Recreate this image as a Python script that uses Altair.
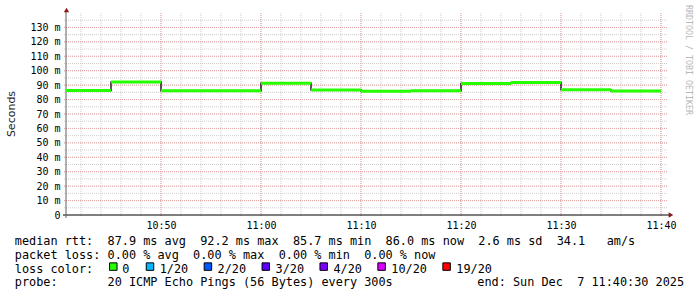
import altair as alt
import pandas as pd

# ---------------- data ----------------
DATE = "2025-12-07"
seg_start = ["10:40:30", "10:45:00", "10:50:00", "10:55:00", "11:00:00", "11:05:00",
             "11:10:00", "11:15:00", "11:20:00", "11:25:00", "11:30:00", "11:35:00"]
seg_end = ["10:45:00", "10:50:00", "10:55:00", "11:00:00", "11:05:00", "11:10:00",
           "11:15:00", "11:20:00", "11:25:00", "11:30:00", "11:35:00", "11:40:00"]
median_ms = [86.3, 92.2, 86.2, 86.2, 91.3, 86.7, 85.7, 86.1, 91.1, 91.9, 86.8, 86.0]

x_domain = ["10:40:30", "11:40:30"]
x_major = ["10:50", "11:00", "11:10", "11:20", "11:30", "11:40"]
x_minor = ["10:42", "10:44", "10:46", "10:48", "10:50", "10:52", "10:54", "10:56", "10:58",
           "11:00", "11:02", "11:04", "11:06", "11:08", "11:10", "11:12", "11:14", "11:16",
           "11:18", "11:20", "11:22", "11:24", "11:26", "11:28", "11:30", "11:32", "11:34",
           "11:36", "11:38", "11:40"]
y_domain = [0, 140]
y_major = [0, 10, 20, 30, 40, 50, 60, 70, 80, 90, 100, 110, 120, 130]
y_minor = [5, 10, 15, 20, 25, 30, 35, 40, 45, 50, 55, 60, 65, 70, 75, 80, 85, 90, 95,
           100, 105, 110, 115, 120, 125, 130, 135]

rtt_values = ["87.9", "92.2", "85.7", "86.0"]
rtt_names = ["avg", "max", "min", "now"]
rtt_sd = "2.6"
am_s = "34.1"
loss_values = ["0.00", "0.00", "0.00", "0.00"]
loss_names = ["avg", "max", "min", "now"]
loss_labels = ["0", "1/20", "2/20", "3/20", "4/20", "10/20", "19/20"]
loss_colors = ["#26ff00", "#00b8ff", "#0059ff", "#5e00ff", "#7e00ff", "#dd00ff", "#ff0000"]
probe_text = "20 ICMP Echo Pings (56 Bytes) every 300s"
end_text = "end: Sun Dec  7 11:40:30 2025"
y_title = "Seconds"
watermark = "RRDTOOL / TOBI OETIKER"

# ---------------- layout ----------------
W, H = 600, 202
PAD_L, PAD_T = 66, 13
MONO = "DejaVu Sans Mono"
LEG_FS = 11.85
NB = "\u00a0"


def ms(t):
    return int(pd.Timestamp(f"{DATE}T{t}Z").value // 1_000_000)


def nb(s):
    return s.replace(" ", NB)


xscale = alt.Scale(type="utc", domain=[ms(t) for t in x_domain])
yscale = alt.Scale(domain=y_domain, nice=False, zero=False)
xaxis = alt.Axis(values=[ms(t) for t in x_major], format="%H:%M", title=None,
                 grid=False, ticks=False, tickSize=0, domain=False,
                 labelFont=MONO, labelFontSize=10, labelColor="#000000",
                 labelBaseline="alphabetic", labelPadding=13,
                 labelOverlap=False, labelFlush=False)
yaxis = alt.Axis(values=y_major, title=None, grid=False, ticks=False, tickSize=0,
                 domain=False, labelFont=MONO, labelFontSize=10, labelColor="#000000",
                 labelPadding=6, labelOverlap=False, labelFlush=False,
                 labelExpr=f"datum.value == 0 ? '0{NB}{NB}' : datum.value + '{NB}m'")

X = lambda f: alt.X(f, type="temporal", scale=xscale, axis=xaxis)
Y = lambda f: alt.Y(f, type="quantitative", scale=yscale, axis=yaxis)

one = pd.DataFrame({"k": [0]})

df_ymin = pd.DataFrame({"v": y_minor})
df_ymaj = pd.DataFrame({"v": y_major[1:]})
df_xmin = pd.DataFrame({"t": [ms(t) for t in x_minor]})
df_xmaj = pd.DataFrame({"t": [ms(t) for t in x_major]})

df_seg = pd.DataFrame({
    "t": [ms(t) for t in seg_start],
    "t2": [ms(t) for t in seg_end],
    "v": median_ms,
})
df_step = pd.DataFrame({
    "t": [ms(t) for t in seg_start] + [ms(seg_end[-1])],
    "v": median_ms + [median_ms[-1]],
})

minor_col = "#cfcfcf"
major_col = "#e6a3a3"

layers = []
layers.append(alt.Chart(df_ymin).mark_rule(color=minor_col, strokeWidth=1, strokeDash=[1, 1]).encode(
    y=Y("v"), x=alt.value(-2), x2=alt.value(W + 2)))
layers.append(alt.Chart(df_xmin).mark_rule(color=minor_col, strokeWidth=1, strokeDash=[1, 1]).encode(
    x=X("t"), y=alt.value(0), y2=alt.value(H + 2)))
layers.append(alt.Chart(df_ymaj).mark_rule(color=major_col, strokeWidth=1, strokeDash=[1, 1]).encode(
    y=Y("v"), x=alt.value(-2), x2=alt.value(W + 2)))
layers.append(alt.Chart(df_xmaj).mark_rule(color=major_col, strokeWidth=1, strokeDash=[1, 1]).encode(
    x=X("t"), y=alt.value(0), y2=alt.value(H + 2)))

# axis lines and arrows
layers.append(alt.Chart(one).mark_rule(color="#000000", strokeWidth=1).encode(
    x=alt.value(-3), x2=alt.value(W + 4), y=alt.value(H)))
layers.append(alt.Chart(one).mark_rule(color="#606060", strokeWidth=1).encode(
    x=alt.value(0), y=alt.value(-3), y2=alt.value(H + 3)))
layers.append(alt.Chart(one).mark_point(shape="triangle-up", filled=True, color="#8b1a1a",
                                        size=28, opacity=1).encode(
    x=alt.value(0.5), y=alt.value(-3)))
layers.append(alt.Chart(one).mark_point(shape="triangle-right", filled=True, color="#8b1a1a",
                                        size=28, opacity=1).encode(
    x=alt.value(W + 5), y=alt.value(H)))

# median line: black step line + green loss-coloured segments
layers.append(alt.Chart(df_step).mark_line(interpolate="step-after", color="#202020",
                                           strokeWidth=1.5).encode(x=X("t"), y=Y("v")))
layers.append(alt.Chart(df_seg).mark_rule(color=loss_colors[0], strokeWidth=3).encode(
    x=X("t"), x2="t2", y=Y("v")))

# y title and watermark
layers.append(alt.Chart(one).mark_text(text=y_title, font="DejaVu Sans", fontSize=11,
                                       angle=270, align="center", baseline="middle",
                                       color="#222222").encode(
    x=alt.value(11.5 - PAD_L), y=alt.value(114 - PAD_T)))
layers.append(alt.Chart(one).mark_text(text=nb(watermark), font=MONO, fontSize=8.3,
                                       angle=90, align="center", baseline="middle",
                                       color="#b8b8b8").encode(
    x=alt.value(687.5 - PAD_L), y=alt.value(60 - PAD_T)))

# legend text lines
line1 = "median rtt:  " + "  ".join(f"{v} ms {n}" for v, n in zip(rtt_values, rtt_names)) \
        + f"  {rtt_sd} ms sd  {am_s}   am/s"
line2 = "packet loss: " + "  ".join(f"{v} % {n}" for v, n in zip(loss_values, loss_names))
line3 = "loss color:"
line4 = "probe:       " + probe_text
base_x = 14.8 - PAD_L
baselines = [244.7, 258.6, 272.5, 286.4]
for txt, by in zip([line1, line2, line3, line4], baselines):
    layers.append(alt.Chart(one).mark_text(text=nb(txt), font=MONO, fontSize=LEG_FS,
                                           align="left", baseline="alphabetic",
                                           color="#000000").encode(
        x=alt.value(base_x), y=alt.value(by - PAD_T)))
layers.append(alt.Chart(one).mark_text(text=nb(end_text), font=MONO, fontSize=LEG_FS,
                                       align="left", baseline="alphabetic",
                                       color="#000000").encode(
    x=alt.value(477.3 - PAD_L), y=alt.value(baselines[3] - PAD_T)))

# loss colour swatches
swatch_cx = [113.3, 150.0, 207.9, 265.8, 323.7, 381.6, 446.6]
label_x = [122.3, 159.7, 217.6, 275.5, 333.4, 391.3, 456.3]
for lab, col, sx, lx in zip(loss_labels, loss_colors, swatch_cx, label_x):
    layers.append(alt.Chart(one).mark_square(color=col, stroke="#000000", strokeWidth=1,
                                             size=56, opacity=1).encode(
        x=alt.value(sx - PAD_L), y=alt.value(266.6 - PAD_T)))
    layers.append(alt.Chart(one).mark_text(text=nb(lab), font=MONO, fontSize=LEG_FS,
                                           align="left", baseline="alphabetic",
                                           color="#000000").encode(
        x=alt.value(lx - PAD_L), y=alt.value(baselines[2] - PAD_T)))

chart = alt.layer(*layers).properties(
    width=W, height=H,
    autosize="none",
    padding={"left": PAD_L, "top": PAD_T, "right": 697 - PAD_L - W, "bottom": 297 - PAD_T - H},
    background="#ffffff",
).configure_view(stroke=None)

chart.save("out.html", embed_options={"renderer": "svg", "actions": False})
